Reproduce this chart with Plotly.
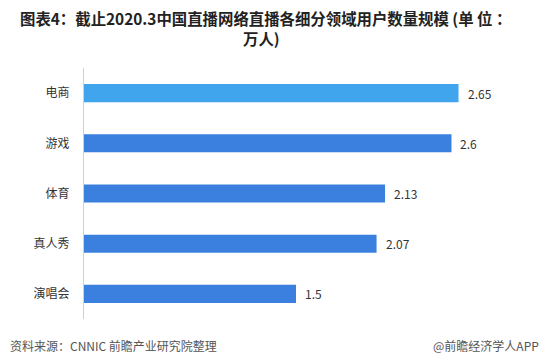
import plotly.graph_objects as go

categories = ["电商", "游戏", "体育", "真人秀", "演唱会"]
values = [2.65, 2.6, 2.13, 2.07, 1.5]
value_labels = ["2.65", "2.6", "2.13", "2.07", "1.5"]
bar_colors = ["#41a5ee", "#3b80de", "#3b80de", "#3b80de", "#3b80de"]

title_line1 = "图表4：截止2020.3中国直播网络直播各细分领域用户数量规模 (单 位 ："
title_line2 = "万人)"
source_text = "资料来源：CNNIC 前瞻产业研究院整理"
brand_text = "@前瞻经济学人APP"

font_family = "Noto Sans CJK SC, Microsoft YaHei, sans-serif"

# figure is placed with the page's default 8px body margin, so size it to fit
W, H = 542, 355
ML, MR, MT, MB = 76, 42, 60, 44
PW = W - ML - MR
PH = H - MT - MB


def px_x(x):
    return (x - ML) / PW


def px_y(y):
    return (H - MB - y) / PH


fig = go.Figure(
    go.Bar(
        x=values,
        y=categories,
        orientation="h",
        width=0.36,
        marker=dict(color=bar_colors, line=dict(width=0)),
        hoverinfo="skip",
    )
)

annotations = []
for c, v, t in zip(categories, values, value_labels):
    annotations.append(
        dict(
            x=v, y=c, xref="x", yref="y",
            text=t, showarrow=False,
            xanchor="left", yanchor="middle", xshift=7,
            font=dict(size=12, color="#333333", family=font_family),
        )
    )

title_font = dict(size=15.4, color="#222222", family=font_family)
annotations += [
    dict(
        text="<b>" + title_line1 + "</b>",
        xref="paper", yref="paper",
        x=px_x(257), y=px_y(10.5),
        xanchor="center", yanchor="middle",
        borderpad=0,
        showarrow=False,
        font=title_font,
    ),
    dict(
        text="<b>" + title_line2 + "</b>",
        xref="paper", yref="paper",
        x=px_x(253), y=px_y(29.5),
        xanchor="center", yanchor="middle",
        borderpad=0,
        showarrow=False,
        font=title_font,
    ),
    dict(
        text=source_text,
        xref="paper", yref="paper",
        x=px_x(0), y=px_y(337),
        xanchor="left", yanchor="middle",
        showarrow=False,
        font=dict(size=12, color="#555555", family=font_family),
    ),
    dict(
        text=brand_text,
        xref="paper", yref="paper",
        x=px_x(533), y=px_y(337),
        xanchor="right", yanchor="middle",
        showarrow=False,
        font=dict(size=12, color="#555555", family=font_family),
    ),
]

fig.update_layout(
    width=W,
    height=H,
    margin=dict(l=ML, r=MR, t=MT, b=MB),
    paper_bgcolor="white",
    plot_bgcolor="white",
    showlegend=False,
    font=dict(family=font_family, color="#333333"),
    xaxis=dict(
        range=[0, 3.0],
        visible=False,
        showgrid=False,
        zeroline=False,
    ),
    yaxis=dict(
        range=[4.5, -0.5],
        autorange=False,
        showgrid=False,
        zeroline=False,
        showline=True,
        linecolor="#d0d0d0",
        linewidth=1,
        ticks="",
        ticklabelstandoff=11,
        tickfont=dict(size=12, color="#333333", family=font_family),
    ),
    annotations=annotations,
)

fig.write_html("out.html")
